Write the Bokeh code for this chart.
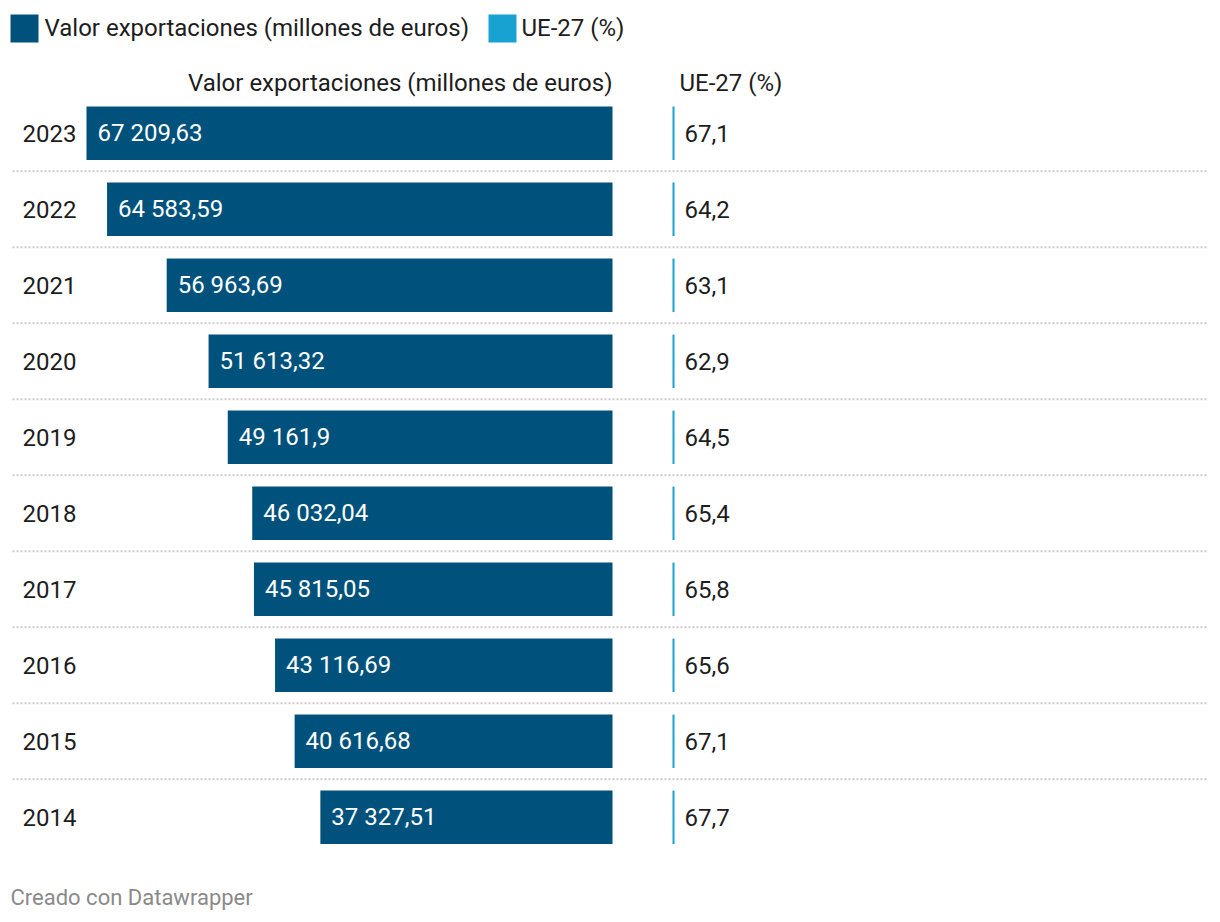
from bokeh.plotting import figure
from bokeh.models import Range1d, ColumnDataSource
from bokeh.core.properties import value
from bokeh.embed import file_html
from bokeh.resources import INLINE

years = ["2023", "2022", "2021", "2020", "2019", "2018", "2017", "2016", "2015", "2014"]
export_values = [67209.63, 64583.59, 56963.69, 51613.32, 49161.9, 46032.04, 45815.05, 43116.69, 40616.68, 37327.51]
export_labels = ["67 209,63", "64 583,59", "56 963,69", "51 613,32", "49 161,9", "46 032,04", "45 815,05", "43 116,69", "40 616,68", "37 327,51"]
ue_values = [67.1, 64.2, 63.1, 62.9, 64.5, 65.4, 65.8, 65.6, 67.1, 67.7]
ue_labels = ["67,1", "64,2", "63,1", "62,9", "64,5", "65,4", "65,8", "65,6", "67,1", "67,7"]

title_export = "Valor exportaciones (millones de euros)"
title_ue = "UE-27 (%)"
footer = "Creado con Datawrapper"

DARK = "#00527c"
LIGHT = "#17a2d1"
TXT = "#1d1d1d"
FONT = value("Roboto")
FS = "24px"

W, H = 1220, 922
p = figure(width=W, height=H, x_range=Range1d(0, W), y_range=Range1d(H, 0),
           output_backend="svg", toolbar_location=None, min_border=0)
p.axis.visible = False
p.grid.visible = False
p.outline_line_color = None
p.background_fill_color = "white"
p.border_fill_color = "white"

# value scale: 0 at x=612, max at x=86
k = (612 - 86) / 67209.63
p.extra_x_ranges = {"val": Range1d(start=612 / k, end=-(W - 612) / k)}
row_h = 76.0
c0 = 132.8
p.extra_y_ranges = {"rows": Range1d(start=(H - c0) / row_h, end=-c0 / row_h)}

idx = list(range(len(years)))
src = ColumnDataSource(dict(y=idx, year=years, val=export_values, vlab=export_labels,
                            ue=ue_values, ulab=ue_labels, zero=[0] * len(years)))

# separators
sep_y = [i + 0.5 for i in idx[:-1]]
p.segment(x0=[12] * len(sep_y), x1=[1208] * len(sep_y), y0=sep_y, y1=sep_y,
          y_range_name="rows", line_color="#cccccc", line_width=2, line_dash="2 2")

# export bars
p.hbar(y="y", left="zero", right="val", height=0.704, source=src,
       x_range_name="val", y_range_name="rows", fill_color=DARK, line_color=None)
p.text(x="val", y="y", text="vlab", source=src, x_range_name="val", y_range_name="rows",
       x_offset=11, text_align="left", text_baseline="middle", text_color="white",
       text_font=FONT, text_font_size=FS)

# UE-27 thin bars
p.hbar(y="y", left=672, right=674, height=0.704, source=src, y_range_name="rows",
       fill_color=LIGHT, line_color=None)
p.text(x=684, y="y", text="ulab", source=src, y_range_name="rows",
       text_align="left", text_baseline="middle", text_color=TXT,
       text_font=FONT, text_font_size=FS)

# year labels
p.text(x=22, y="y", text="year", source=src, y_range_name="rows",
       text_align="left", text_baseline="middle", text_color=TXT,
       text_font=FONT, text_font_size=FS)

# column headers
p.text(x=[612], y=[82], text=[title_export], text_align="right", text_baseline="middle",
       text_color=TXT, text_font=FONT, text_font_size=FS)
p.text(x=[679], y=[82], text=[title_ue], text_align="left", text_baseline="middle",
       text_color=TXT, text_font=FONT, text_font_size=FS)

# legend
p.quad(left=[10, 488], right=[38, 516], top=[14, 14], bottom=[42, 42],
       fill_color=[DARK, LIGHT], line_color=None)
p.text(x=[44, 521], y=[27, 27], text=[title_export, title_ue], text_align="left",
       text_baseline="middle", text_color=TXT, text_font=FONT, text_font_size=FS)

# footer
p.text(x=[10], y=[897], text=[footer], text_align="left", text_baseline="middle",
       text_color="#8a8a8a", text_font=FONT, text_font_size="22px")

open("out.html", "w").write(file_html(p, INLINE))
